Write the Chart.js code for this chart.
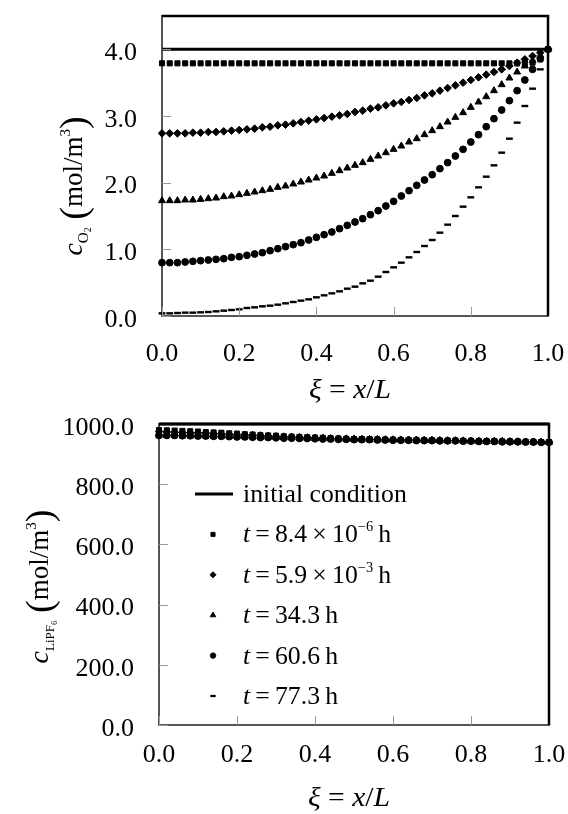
<!DOCTYPE html>
<html>
<head>
<meta charset="utf-8">
<script src="https://cdn.jsdelivr.net/npm/chart.js@4.4.1/dist/chart.umd.min.js"></script>
<style>
  html, body { margin: 0; padding: 0; background: #fff; }
  #wrap { position: relative; width: 568px; height: 814px; }
  canvas { position: absolute; left: 0; }
  #topChart { top: 0; }
  #bottomChart { top: 407px; }
</style>
</head>
<body>
<div id="wrap">
  <canvas id="topChart" width="568" height="407"></canvas>
  <canvas id="bottomChart" width="568" height="407"></canvas>
</div>
<script>
// positions along the electrode, xi = x/L
const xi = [0.00, 0.02, 0.04, 0.06, 0.08, 0.10, 0.12, 0.14, 0.16, 0.18,
            0.20, 0.22, 0.24, 0.26, 0.28, 0.30, 0.32, 0.34, 0.36, 0.38,
            0.40, 0.42, 0.44, 0.46, 0.48, 0.50, 0.52, 0.54, 0.56, 0.58,
            0.60, 0.62, 0.64, 0.66, 0.68, 0.70, 0.72, 0.74, 0.76, 0.78,
            0.80, 0.82, 0.84, 0.86, 0.88, 0.90, 0.92, 0.94, 0.96, 0.98, 1.00];
const initX = [0, 1];
const xTicks = [0, 0.2, 0.4, 0.6, 0.8, 1.0];
const o2Ticks = [0, 1, 2, 3, 4];
const lipTicks = [0, 200, 400, 600, 800, 1000];

const legendNames = ['initial condition', 't1', 't2', 't3', 't4', 't5'];
const tValues = ['8.4', '5.9', '34.3', '60.6', '77.3'];
const tExps = ['\u22126', '\u22123', null, null, null];

// O2 concentration (mol/m3)
const o2Init = [4.0, 4.0];
const o2T1 = [3.79, 3.79, 3.79, 3.79, 3.79, 3.79, 3.79, 3.79, 3.79, 3.79,
              3.79, 3.79, 3.79, 3.79, 3.79, 3.79, 3.79, 3.79, 3.79, 3.79,
              3.79, 3.79, 3.79, 3.79, 3.79, 3.79, 3.79, 3.79, 3.79, 3.79,
              3.79, 3.79, 3.79, 3.79, 3.79, 3.79, 3.79, 3.79, 3.79, 3.79,
              3.79, 3.79, 3.79, 3.79, 3.79, 3.79, 3.79, 3.79, 3.80, 3.85, 4.00];
const o2T2 = [2.74, 2.74, 2.74, 2.74, 2.75, 2.75, 2.76, 2.76, 2.77, 2.78,
              2.79, 2.80, 2.81, 2.83, 2.84, 2.86, 2.87, 2.89, 2.91, 2.93,
              2.95, 2.97, 2.99, 3.01, 3.03, 3.06, 3.08, 3.11, 3.13, 3.16,
              3.19, 3.21, 3.24, 3.27, 3.31, 3.34, 3.38, 3.42, 3.46, 3.50,
              3.54, 3.58, 3.62, 3.66, 3.70, 3.75, 3.80, 3.85, 3.90, 3.95, 4.00];
const o2T3 = [1.73, 1.73, 1.73, 1.74, 1.74, 1.75, 1.76, 1.77, 1.79, 1.80,
              1.82, 1.84, 1.86, 1.88, 1.90, 1.93, 1.95, 1.98, 2.01, 2.04,
              2.07, 2.10, 2.14, 2.18, 2.22, 2.26, 2.30, 2.35, 2.40, 2.45,
              2.50, 2.55, 2.61, 2.66, 2.72, 2.78, 2.84, 2.91, 2.98, 3.05,
              3.13, 3.21, 3.29, 3.38, 3.47, 3.57, 3.66, 3.75, 3.83, 3.91, 4.00];
const o2T4 = [0.80, 0.80, 0.80, 0.81, 0.82, 0.83, 0.84, 0.85, 0.86, 0.88,
              0.89, 0.91, 0.93, 0.95, 0.98, 1.01, 1.04, 1.07, 1.10, 1.14,
              1.18, 1.22, 1.26, 1.31, 1.36, 1.41, 1.46, 1.52, 1.58, 1.65,
              1.72, 1.80, 1.88, 1.96, 2.04, 2.12, 2.21, 2.30, 2.40, 2.50,
              2.61, 2.72, 2.84, 2.96, 3.09, 3.23, 3.38, 3.54, 3.70, 3.86, 4.00];
const o2T5 = [0.04, 0.04, 0.045, 0.05, 0.05, 0.055, 0.06, 0.07, 0.08, 0.09,
              0.10, 0.12, 0.13, 0.145, 0.155, 0.17, 0.19, 0.21, 0.23, 0.25,
              0.28, 0.31, 0.34, 0.37, 0.41, 0.44, 0.49, 0.53, 0.59, 0.66,
              0.73, 0.80, 0.88, 0.96, 1.05, 1.14, 1.25, 1.37, 1.50, 1.64,
              1.78, 1.93, 2.09, 2.26, 2.45, 2.66, 2.90, 3.15, 3.41, 3.70, 4.00];

// LiPF6 concentration (mol/m3)
const lipInit = [1000.0, 1000.0];
const lipT1 = [980, 979, 978, 977, 976, 975, 973, 972, 971, 969,
               968, 966, 965, 963, 962, 961, 959, 958, 957, 956,
               955, 954, 953, 952, 951, 950, 950, 949, 949, 948,
               948, 947, 947, 947, 946, 946, 945, 945, 945, 944,
               944, 943, 943, 943, 942, 942, 941, 941, 941, 940, 940];
const lipT2 = [975, 974, 973, 972, 971, 971, 970, 968, 967, 966,
               965, 964, 963, 962, 960, 959, 958, 957, 956, 955,
               954, 953, 952, 951, 951, 950, 950, 949, 949, 948,
               948, 947, 947, 947, 946, 946, 945, 945, 945, 944,
               944, 943, 943, 943, 942, 942, 941, 941, 941, 940, 940];
const lipT3 = [968, 968, 967, 967, 966, 965, 965, 964, 963, 962,
               961, 960, 959, 958, 957, 956, 955, 955, 954, 953,
               952, 952, 951, 950, 950, 949, 949, 948, 948, 947,
               947, 947, 946, 946, 946, 945, 945, 944, 944, 944,
               943, 943, 942, 942, 942, 941, 941, 940, 940, 940, 939];
const lipT4 = [962, 962, 962, 961, 961, 960, 960, 959, 959, 958,
               957, 957, 956, 955, 955, 954, 953, 953, 952, 952,
               951, 950, 950, 949, 949, 948, 948, 948, 947, 947,
               946, 946, 946, 945, 945, 945, 944, 944, 944, 943,
               943, 942, 942, 942, 941, 941, 941, 940, 940, 939, 939];
const lipT5 = [957, 957, 957, 956, 956, 956, 955, 955, 955, 954,
               954, 953, 953, 952, 952, 952, 951, 951, 950, 950,
               950, 949, 949, 949, 948, 948, 948, 947, 947, 947,
               946, 946, 946, 945, 945, 945, 944, 944, 944, 943,
               943, 942, 942, 942, 941, 941, 941, 940, 940, 939, 939];

const SERIF = "'Liberation Serif', 'Times New Roman', serif";

// marker look for the five time steps
const markers = [
    { pointStyle: 'rect', pointRadius: 3.6 },
    { pointStyle: 'rectRot', pointRadius: 3.8 },
    { pointStyle: 'triangle', pointRadius: 4 },
    { pointStyle: 'circle', pointRadius: 3.4 },
    { pointStyle: 'line', pointRadius: 3.4, pointBorderWidth: 2.4 }
];

function buildDatasets(init, series) {
    const sets = [{
        label: legendNames[0],
        data: initX.map((x, i) => ({ x: x, y: init[i] })),
        showLine: true,
        borderColor: '#000',
        borderWidth: 3,
        pointRadius: 0,
        clip: false
    }];
    series.forEach((ys, k) => {
        sets.push(Object.assign({
            label: legendNames[k + 1],
            data: ys.map((y, i) => ({ x: xi[i], y: y })),
            showLine: false,
            backgroundColor: '#000',
            borderColor: '#000',
            pointBorderWidth: 1,
            clip: false
        }, markers[k]));
    });
    return sets;
}

// write mixed text (italic, sub/superscripts); align 'center' or 'left'
function drawRich(ctx, parts, x, y, rotation, align, stretch) {
    ctx.save();
    ctx.translate(x, y);
    ctx.rotate(rotation);
    ctx.scale(stretch || 1, 1);
    ctx.fillStyle = '#000';
    ctx.textBaseline = 'alphabetic';
    ctx.textAlign = 'left';
    let w = 0;
    parts.forEach(p => { ctx.font = p[1]; w += ctx.measureText(p[0]).width; });
    let cx = align === 'left' ? 0 : -w / 2;
    parts.forEach(p => {
        ctx.font = p[1];
        ctx.fillText(p[0], cx, p[2] || 0);
        cx += ctx.measureText(p[0]).width;
    });
    ctx.restore();
}

const framePlugin = {
    id: 'frame',
    afterDatasetsDraw(chart) {
        const { ctx, chartArea: a, scales } = chart;
        ctx.save();
        // short inner tick marks
        ctx.strokeStyle = '#999';
        ctx.lineWidth = 1;
        scales.x.ticks.forEach(t => {
            const px = Math.round(scales.x.getPixelForValue(t.value)) + 0.5;
            ctx.beginPath(); ctx.moveTo(px, a.bottom); ctx.lineTo(px, a.bottom - 9); ctx.stroke();
        });
        scales.y.ticks.forEach(t => {
            const py = Math.round(scales.y.getPixelForValue(t.value)) + 0.5;
            ctx.beginPath(); ctx.moveTo(a.left, py); ctx.lineTo(a.left + 9, py); ctx.stroke();
        });
        // top and right edges of the box
        ctx.strokeStyle = '#000';
        ctx.lineWidth = 2.5;
        ctx.beginPath();
        ctx.moveTo(a.left, a.top);
        ctx.lineTo(a.right, a.top);
        ctx.lineTo(a.right, a.bottom);
        ctx.stroke();
        ctx.restore();
    },
    afterDraw(chart) {
        const o = chart.options.plugins.frame;
        const a = chart.chartArea;
        const ctx = chart.ctx;
        drawRich(ctx, o.xTitle, (a.left + a.right) / 2 - 5, a.bottom + o.xTitleDy, 0, 'center', 1.06);
        drawRich(ctx, o.yTitle, o.yTitleX, (a.top + a.bottom) / 2 + o.yTitleDy, -Math.PI / 2, 'center', 1);
        if (!o.legend) return;
        const lg = o.legend;
        const f = '25px ' + SERIF;
        // line sample for the initial condition
        ctx.save();
        ctx.strokeStyle = '#000';
        ctx.lineWidth = 3;
        ctx.beginPath();
        ctx.moveTo(lg.x, lg.y);
        ctx.lineTo(lg.x + 38, lg.y);
        ctx.stroke();
        ctx.restore();
        drawRich(ctx, [[legendNames[0], f]], lg.x + 48, lg.y + 8, 0, 'left', 1.03);
        chart.data.datasets.slice(1).forEach((ds, k) => {
            const y = lg.y + lg.gap * (k + 1);
            ctx.save();
            ctx.fillStyle = '#000';
            ctx.strokeStyle = '#000';
            ctx.lineWidth = ds.pointStyle === 'line' ? 2.2 : 1;
            Chart.helpers.drawPoint(ctx, { pointStyle: ds.pointStyle, radius: ds.pointRadius * 0.8, rotation: 0, borderWidth: ctx.lineWidth }, lg.x + 18, y);
            ctx.restore();
            const parts = [['t', 'italic ' + f], ['\u2009=\u2009' + tValues[k], f]];
            if (tExps[k]) {
                parts.push(['\u2009\u00d7\u200910', f]);
                parts.push([tExps[k], '14px ' + SERIF, -11]);
            }
            parts.push(['\u2009h', f]);
            drawRich(ctx, parts, lg.x + 48, y + 8, 0, 'left', 1.03);
        });
    }
};

function makeChart(id, cfg) {
    const tickFont = { family: SERIF, size: 26 };
    return new Chart(document.getElementById(id), {
        type: 'scatter',
        data: { datasets: cfg.datasets },
        options: {
            responsive: false,
            animation: false,
            layout: { padding: { top: cfg.top, right: cfg.right, left: 0, bottom: 0 } },
            plugins: {
                legend: { display: false },
                tooltip: { enabled: false },
                frame: cfg.frame
            },
            scales: {
                x: {
                    type: 'linear',
                    min: 0,
                    max: 1,
                    afterBuildTicks: s => { s.ticks = xTicks.map(v => ({ value: v })); },
                    afterFit: s => {
                        s.height = cfg.xAxisH;
                        s.paddingLeft = 0; s.paddingRight = 0; s.paddingTop = 0; s.paddingBottom = 0;
                    },
                    ticks: {
                        callback: v => v.toFixed(1),
                        font: tickFont,
                        color: '#000',
                        padding: cfg.xPad,
                        maxRotation: 0,
                        autoSkip: false
                    },
                    grid: { display: false, drawTicks: false },
                    border: { display: true, color: '#555', width: 2 }
                },
                y: {
                    type: 'linear',
                    min: cfg.yMin,
                    max: cfg.yMax,
                    afterBuildTicks: s => { s.ticks = cfg.yTicks.map(v => ({ value: v })); },
                    afterFit: s => {
                        s.width = cfg.yAxisW;
                        s.paddingLeft = 0; s.paddingRight = 0; s.paddingTop = 0; s.paddingBottom = 0;
                    },
                    ticks: {
                        callback: v => v.toFixed(1),
                        font: tickFont,
                        color: '#000',
                        padding: 25,
                        labelOffset: 4,
                        autoSkip: false
                    },
                    grid: { display: false, drawTicks: false },
                    border: { display: true, color: '#555', width: 2 }
                }
            }
        },
        plugins: [framePlugin]
    });
}

const italicT = 'italic 28px ' + SERIF;
const romanT = '28px ' + SERIF;
const xTitleParts = [['\u03be', italicT], [' = ', romanT], ['x', italicT], ['/', romanT], ['L', italicT]];

makeChart('topChart', {
    datasets: buildDatasets(o2Init, [o2T1, o2T2, o2T3, o2T4, o2T5]),
    top: 16, right: 20, xAxisH: 91, yAxisW: 162, xPad: 23,
    yMin: 0, yMax: 4.5, yTicks: o2Ticks,
    frame: {
        xTitle: xTitleParts,
        xTitleDy: 82,
        yTitle: [['c', 'italic 28px ' + SERIF], ['O', '15px ' + SERIF, 6], ['2', '10px ' + SERIF, 9],
                 ['\u2009(', '38px ' + SERIF, 4], ['mol/m', '27px ' + SERIF], ['3', '15px ' + SERIF, -12], [')', '38px ' + SERIF, 4]],
        yTitleX: 82,
        yTitleDy: 20
    }
});

makeChart('bottomChart', {
    datasets: buildDatasets(lipInit, [lipT1, lipT2, lipT3, lipT4, lipT5]),
    top: 17, right: 19, xAxisH: 89, yAxisW: 159, xPad: 15,
    yMin: 0, yMax: 1000, yTicks: lipTicks,
    frame: {
        xTitle: xTitleParts,
        xTitleDy: 81,
        yTitle: [['c', 'italic 28px ' + SERIF], ['LiPF', '13px ' + SERIF, 6], ['6', '9px ' + SERIF, 9],
                 ['\u2009(', '38px ' + SERIF, 4], ['mol/m', '27px ' + SERIF], ['3', '15px ' + SERIF, -12], [')', '38px ' + SERIF, 4]],
        yTitleX: 48,
        yTitleDy: 12,
        legend: { x: 195, y: 87, gap: 40.4 }
    }
});
</script>
</body>
</html>
